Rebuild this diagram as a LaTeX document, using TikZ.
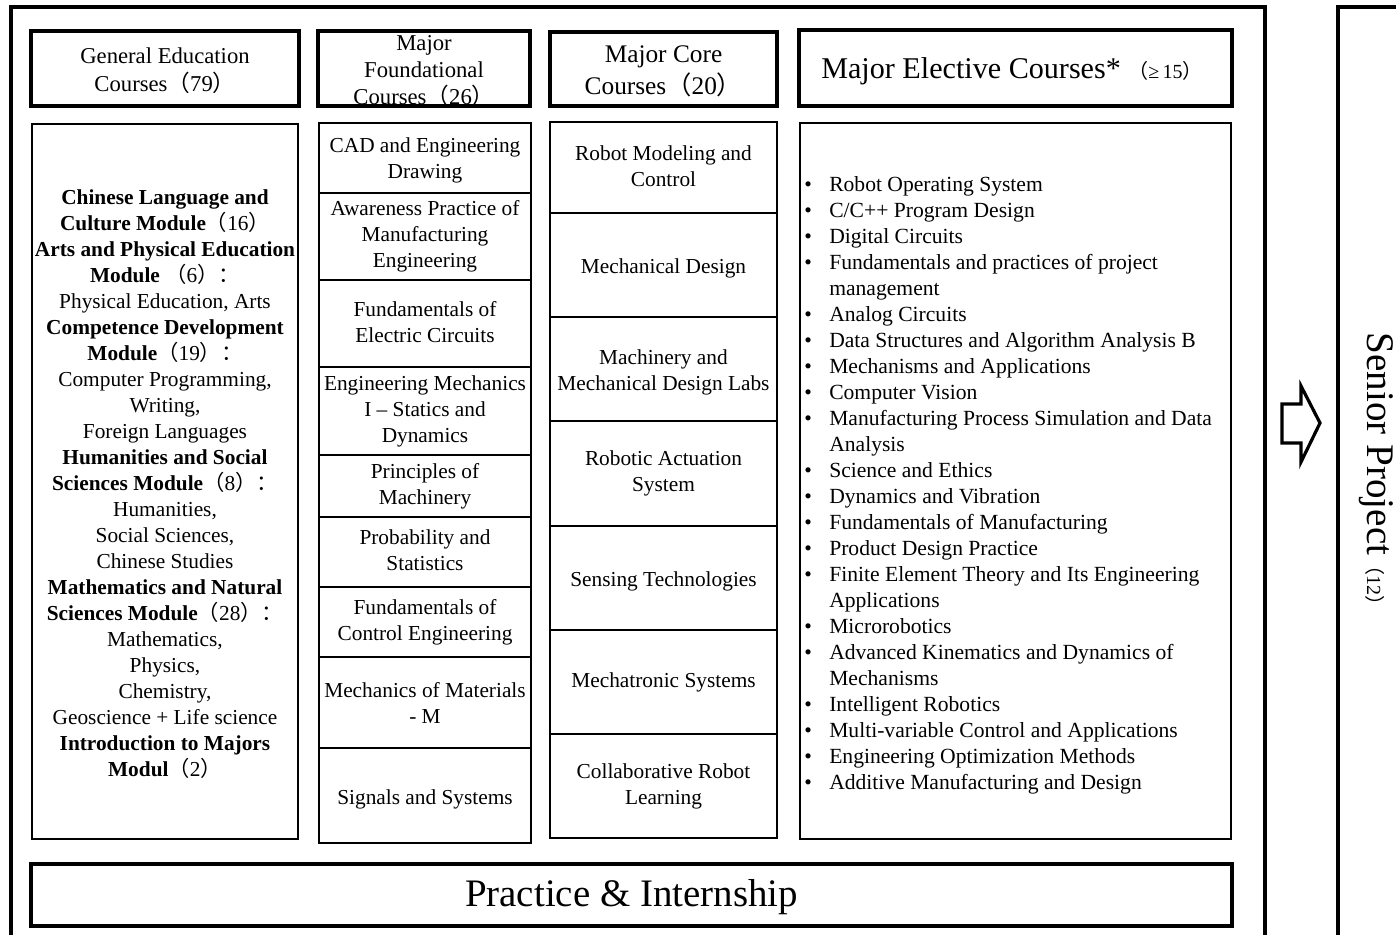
\documentclass[tikz,border=0pt]{standalone}
\usepackage{fontspec}
\setmainfont{Liberation Serif}
\newfontfamily\cjk{Noto Sans CJK SC}
\newcommand\itm[1]{\makebox[18.75pt][l]{\textbullet}#1}
\newcommand\cnt[1]{\hspace*{18.75pt}#1}
\newcommand\lp{{\cjk （}}
\newcommand\rp{{\cjk ）}}
\begin{document}
\begin{tikzpicture}[x=0.75pt,y=-0.75pt,
  outer/.style={line width=2.6pt},
  hbox/.style={line width=3pt},
  cbox/.style={line width=1.3pt},
  body/.style={font=\fontsize{16}{19.5}\selectfont, align=center, inner sep=0pt, yshift=-1.8pt},
  head/.style={font=\fontsize{17}{21}\selectfont, align=center, inner sep=0pt, yshift=-1.5pt},
]
\useasboundingbox (0,0) rectangle (1396,935);
\fill[white] (0,0) rectangle (1396,935);

% outer frames
\draw[outer] (11,945) -- (11,7) -- (1265,7) -- (1265,945);
\draw[outer] (1338,945) -- (1338,7) -- (1405,7);

% header texts
\node[head] (hge) at (165,69) {General Education\\Courses\lp 79\rp};
\node[head, font=\fontsize{17}{20.25}\selectfont] (hmf) at (424,69) {Major\\Foundational\\Courses\lp 26\rp};
\node[head, font=\fontsize{19}{24}\selectfont] (hmc) at (663.5,69) {Major Core\\Courses\lp 20\rp};
\node[head, font=\fontsize{22.6}{26}\selectfont] (hme) at (1012,69) {Major Elective Courses*\ {\fontsize{15}{17}\selectfont\lp≥\,15\rp}};

% header boxes
\draw[hbox] (31,31) rectangle (299,106);
\draw[hbox] (318,31) rectangle (530,106);
\draw[hbox] (550,32) rectangle (777,106);
\draw[hbox] (799,30) rectangle (1232,106);

% General education content
\draw[cbox] (32,124) rectangle (298,839);
\node[body] (ge) at (165,482) {%
\textbf{Chinese Language and}\\
\textbf{Culture Module}\lp 16\rp\\
\textbf{Arts and Physical Education}\\
\textbf{Module}\ \lp 6\rp{\cjk ：}\\
Physical Education, Arts\\
\textbf{Competence Development}\\
\textbf{Module}\lp 19\rp{\cjk ：}\\
Computer Programming,\\
Writing,\\
Foreign Languages\\
\textbf{Humanities and Social}\\
\textbf{Sciences Module}\lp 8\rp{\cjk ：}\\
Humanities,\\
Social Sciences,\\
Chinese Studies\\
\textbf{Mathematics and Natural}\\
\textbf{Sciences Module}\lp 28\rp{\cjk ：}\\
Mathematics,\\
Physics,\\
Chemistry,\\
Geoscience + Life science\\
\textbf{Introduction to Majors}\\
\textbf{Modul}\lp 2\rp};

% Major foundational column
\draw[cbox] (319,123) rectangle (531,843);
\foreach \yy in {193,280,367,455,517,587,657,748}
  \draw[cbox] (319,\yy) -- (531,\yy);
\node[body] (mf1) at (425,158) {CAD and Engineering\\Drawing};
\node[body] (mf2) at (425,234) {Awareness Practice of\\Manufacturing\\Engineering};
\node[body] (mf3) at (425,319.5) {Fundamentals of\\Electric Circuits};
\node[body] (mf4) at (425,409) {Engineering Mechanics\\I -- Statics and\\Dynamics};
\node[body] (mf5) at (425,484) {Principles of\\Machinery};
\node[body] (mf6) at (425,548) {Probability and\\Statistics};
\node[body] (mf7) at (425,620) {Fundamentals of\\Control Engineering};
\node[body] (mf8) at (425,701) {Mechanics of Materials\\- M};
\node[body] (mf9) at (425,797) {Signals and Systems};

% Major core column
\draw[cbox] (550,122) rectangle (777,838);
\foreach \yy in {213,317,421,526,630,734}
  \draw[cbox] (550,\yy) -- (777,\yy);
\node[body] (mc1) at (663.5,163.5) {Robot Modeling and\\Control};
\node[body] (mc2) at (663.5,266) {Mechanical Design};
\node[body] (mc3) at (663.5,370) {Machinery and\\Mechanical Design Labs};
\node[body] (mc4) at (663.5,470.5) {Robotic Actuation\\System};
\node[body] (mc5) at (663.5,579) {Sensing Technologies};
\node[body] (mc6) at (663.5,679.5) {Mechatronic Systems};
\node[body] (mc7) at (663.5,783.5) {Collaborative Robot\\Learning};

% Major elective column
\draw[cbox] (800,123) rectangle (1231,839);
\node[body, font=\fontsize{16.2}{19.5}\selectfont, align=left, anchor=west] (me) at (804,483) {%
\itm{Robot Operating System}\\
\itm{C/C++ Program Design}\\
\itm{Digital Circuits}\\
\itm{Fundamentals and practices of project}\\
\cnt{management}\\
\itm{Analog Circuits}\\
\itm{Data Structures and Algorithm Analysis B}\\
\itm{Mechanisms and Applications}\\
\itm{Computer Vision}\\
\itm{Manufacturing Process Simulation and Data}\\
\cnt{Analysis}\\
\itm{Science and Ethics}\\
\itm{Dynamics and Vibration}\\
\itm{Fundamentals of Manufacturing}\\
\itm{Product Design Practice}\\
\itm{Finite Element Theory and Its Engineering}\\
\cnt{Applications}\\
\itm{Microrobotics}\\
\itm{Advanced Kinematics and Dynamics of}\\
\cnt{Mechanisms}\\
\itm{Intelligent Robotics}\\
\itm{Multi-variable Control and Applications}\\
\itm{Engineering Optimization Methods}\\
\itm{Additive Manufacturing and Design}};

% Practice & Internship
\draw[hbox] (31,864) rectangle (1232,926);
\node[inner sep=0pt, font=\fontsize{29.2}{32}\selectfont] (pi) at (631.5,897) {Practice \& Internship};

% arrow
\draw[line width=2.4pt, line join=miter] (1282,404) -- (1301,404) -- (1301,386) -- (1320,423) -- (1301,462) -- (1301,443) -- (1282,443) -- cycle;

% Senior project
\node[rotate=-90, inner sep=0pt, font=\fontsize{29.3}{32}\selectfont] (sp) at (1376,474) {Senior Project{\fontsize{15}{17}\selectfont\lp 12\rp}};
\end{tikzpicture}
\end{document}
